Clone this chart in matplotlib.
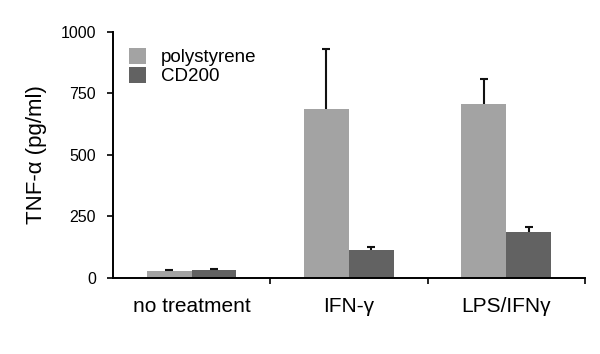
import numpy as np
import matplotlib
matplotlib.use("Agg")
import matplotlib.pyplot as plt

plt.rcParams['font.family'] = ['Liberation Sans', 'DejaVu Sans']

# data
groups = ['no treatment', 'IFN-γ', 'LPS/IFNγ']
polystyrene = [27, 686, 707]
polystyrene_err = [6, 245, 101]
cd200 = [33, 113, 185]
cd200_err = [5, 11, 20]

fig = plt.figure(figsize=(6, 3.54), dpi=100)
ax = fig.add_axes([0.188, 0.215, 0.787, 0.695])

x = np.arange(len(groups))
w = 0.285
ekw = dict(ecolor='#111111', elinewidth=1.5, capthick=1.5)
b1 = ax.bar(x - w/2, polystyrene, w, color='#a3a3a3', label='polystyrene',
            yerr=[np.zeros(3), polystyrene_err], capsize=3, error_kw=ekw)
b2 = ax.bar(x + w/2, cd200, w, color='#626262', label='CD200',
            yerr=[np.zeros(3), cd200_err], capsize=3, error_kw=ekw)
# only upper caps
for b in (b1, b2):
    b.errorbar.lines[1][0].set_visible(False)

ax.set_xlim(-0.5, 2.5)
ax.set_ylim(0, 1000)
ax.set_yticks([0, 250, 500, 750, 1000])
ax.set_xticks(x)
ax.set_xticklabels(groups, fontsize=15)
ax.set_xticks([0.5, 1.5, 2.5], minor=True)
ax.tick_params(axis='x', which='major', length=0, pad=14)
ax.tick_params(axis='x', which='minor', length=4, width=1.2, direction='out')
ax.tick_params(axis='y', labelsize=11.5, length=4, width=1.2, pad=8)
ax.set_ylabel('TNF-α (pg/ml)', fontsize=16, labelpad=10)

for s in ['top', 'right']:
    ax.spines[s].set_visible(False)
for s in ['left', 'bottom']:
    ax.spines[s].set_linewidth(1.4)

ax.legend(loc='upper left', frameon=False, fontsize=13.5, handlelength=0.9,
          handleheight=0.9, labelspacing=0.05, handletextpad=0.8,
          borderaxespad=0.2, bbox_to_anchor=(0.01, 0.98))

fig.savefig('out.png', dpi=100)
